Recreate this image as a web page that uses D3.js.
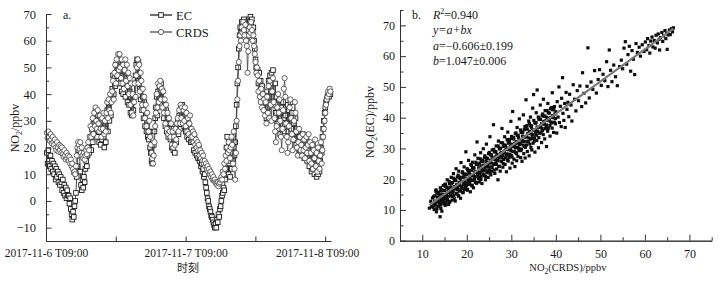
<!DOCTYPE html>
<html>
<head>
<meta charset="utf-8">
<script src="https://cdn.jsdelivr.net/npm/d3@7"></script>
<style>
  body { margin: 0; background: #fff; }
  text { font-family: "Liberation Serif", "Times New Roman", serif; fill: #1a1a1a; }
</style>
</head>
<body>
<svg id="fig" width="728" height="283"></svg>
<script>
// ---- panel a: NO2 time series, one reading every 7.5 min from 2017-11-06 09:09
const startTime = new Date(2017, 10, 6, 9, 0);
const firstHour = 0.15, stepHours = 0.125;
const ecSeries = [
  18,14,19,15,13,17,12,15,11,14,
  10,13,8,12,9,11,7,10,6,9,
  7,4,8,3,6,2,5,1,4,2,
  2,-1,1,-3,-5,-7,-4,-6,-2,0,
  3,9,13,19,21,17,11,6,4,8,
  5,9,7,12,15,13,17,20,18,22,
  24,19,27,22,29,25,31,34,28,24,
  32,26,22,29,21,27,23,30,24,20,
  27,22,30,34,26,35,30,37,32,38,
  42,47,40,46,43,51,45,49,52,44,
  50,44,48,41,47,40,49,43,39,46,
  43,37,45,36,41,33,39,32,37,34,
  39,44,47,51,53,46,52,45,42,38,
  42,34,39,31,37,28,33,26,30,24,
  23,26,20,18,15,14,17,21,26,31,
  35,39,32,41,35,43,38,44,36,41,
  38,31,36,28,34,26,31,24,29,25,
  23,27,20,25,19,23,18,25,22,28,
  30,25,32,27,35,29,36,31,34,28,
  32,26,30,24,29,23,28,25,22,26,
  22,25,19,24,18,22,17,21,16,20,
  15,16,13,14,11,12,9,10,7,5,
  3,1,0,-2,-3,-4,-5.5,-6,-7,-8,
  -9,-10,-8.5,-10,-7,-8,-5,-6,-3,-2,
  0,2,3,5,4,8,12,20,24,18,
  10,14,9,15,12,18,15,20,17,22,
  28,36,44,50,57,62,65,63,67,64,
  66,68,63,67,65,61,66,64,68,67,
  69,66,68,63,65,60,57,53,50,48,
  49,44,48,41,45,39,43,37,35,40,
  34,39,31,41,35,45,37,47,41,48,
  44,49,39,36,44,33,39,29,36,27,
  33,25,31,35,27,37,31,26,32,35,
  29,36,26,34,28,37,27,33,25,31,
  29,23,31,21,27,20,26,19,24,18,
  23,17,25,19,16,22,18,24,15,21,
  19,13,21,15,11,18,12,16,10,17,
  12,9,14,10,13,11,15,20,18,24,
  27,30,33,35,37,38,39,40,39,40,
  40
];
const crdsSeries = [
  25.5,23.5,26,24,22.5,25,23,21.5,24,22,
  21,23,20,19,22,20,18.5,21,19,20.5,
  18,20,17.5,16.5,19,17,15.5,18,16,17,
  15,16.5,14,15.5,13,14,12,10.5,11,10,
  13,17,20,22,21,19.5,22,18,20,17,
  16,18,15.5,17,19,17.5,20,22,19,24,
  28,24,27,31,25,33,28,35,30,27,
  34,29,26,32,27,24,31,27,33,25,
  30,26,33,37,31,38,34,40,33,37,
  41,45,38,48,51,44,53,47,55,49,
  55,50,46,53,44,51,42,49,53,45,
  51,43,48,40,46,36,44,33,40,32,
  37,44,39,47,50,53,44,51,41,48,
  45,36,42,34,39,31,36,28,33,26,
  26,30,24,21,18,16,14,17,22,28,
  33,40,35,44,37,43,45,38,42,35,
  41,33,38,29,36,27,33,25,31,26,
  24,29,21,26,20,24,21,27,23,29,
  31,26,34,29,36,31,35,29,34,30,
  35,28,33,26,31,25,29,32,24,27,
  24,26,22,25,21,23,20,22,19,21,
  17,19,16,18,15,17,14,15,13,14,
  12,13,11,12,10,11,9,10,8,9,
  7.5,8,7,6.5,6,7,5.5,6.5,7,8,
  9,8,11,10,14,12,17,15,20,18,
  22,19,16,20,24,21,14,26,12,8,
  18,30,38,45,52,58,62,60,65,63,
  67,64,62,66,60,58,48,56,62,65,
  63,67,64,60,62,58,55,52,48,50,
  47,41,45,39,37,42,35,40,34,38,
  32,37,29,39,33,43,31,45,36,30,
  41,46,37,31,26,22,28,35,40,33,
  38,30,24,19,27,34,42,46,39,29,
  24,18,22,28,35,38,31,25,19,23,
  30,37,33,26,20,17,22,27,24,19,
  21,17,25,19,23,16,20,24,18,21,
  25,15,22,18,14,21,12,19,16,23,
  13,18,11,20,15,12,17,22,14,19,
  24,27,30,33,36,38,39,41,40,42,
  41
];
const seriesNames = ["EC", "CRDS"];
const timeTickHours = [0, 12, 24, 36, 48];
const timeLabelHours = [0, 24, 48];

// ---- panel b: EC against CRDS, [CRDS, EC] in ppbv
const scatterPairs = [
  [11.6,10.6],[11.9,12.8],[12.1,11.2],[12.3,13.9],[12.4,10.9],[12.6,12.1],[12.8,14.6],[12.9,11.8],[13.1,16.5],[13.2,12.6],
  [13.3,10.4],[13.4,14.2],[13.6,13.1],[13.7,15.8],[13.8,12.2],[14.0,7.8],[14.0,14.9],[14.1,11.6],[14.2,16.2],[14.3,13.4],
  [14.4,9.6],[14.5,15.1],[14.6,12.7],[14.7,17.9],[14.8,14.3],[14.9,11.9],[15.0,16.3],[15.1,13.6],[15.2,18.4],[15.3,12.4],[15.4,15.2],
  [15.5,14.1],[15.6,19.8],[15.7,13.0],[15.8,16.9],[15.9,11.8],[16.0,15.7],[16.1,18.6],[16.2,12.7],[16.3,17.4],[16.4,14.8],[16.5,20.6],
  [16.6,15.9],[16.7,13.2],[16.8,18.9],[16.9,16.4],[17.0,21.8],[17.1,14.6],[17.2,17.6],[17.3,19.9],[17.4,12.9],[17.5,16.8],[17.6,23.4],
  [17.7,18.1],[17.8,15.2],[17.9,20.7],[18.0,17.3],[18.1,14.5],[18.2,22.6],[18.3,18.9],[18.4,16.1],[18.5,20.1],[18.6,13.8],[18.7,25.4],
  [18.8,19.3],[18.9,17.0],[19.0,22.1],[19.1,15.6],[19.2,20.6],[19.3,18.2],[19.4,24.0],[19.5,16.7],[19.6,21.3],[19.7,19.0],[19.8,28.9],[19.9,17.9],
  [20.0,21.6],[20.1,16.4],[20.2,23.2],[20.3,19.4],[20.4,26.1],[20.5,18.3],[20.6,22.0],[20.7,20.7],[20.8,15.9],[20.9,24.8],[21.0,19.6],[21.1,22.9],
  [21.2,18.0],[21.3,25.5],[21.4,21.1],[21.5,17.2],[21.6,23.6],[21.7,20.1],[21.8,27.9],[21.9,19.0],[22.0,22.4],[22.1,24.9],[22.2,18.7],[22.3,32.1],
  [22.4,21.5],[22.5,26.8],[22.6,20.2],[22.7,23.7],[22.8,19.1],[22.9,25.2],[23.0,22.3],[23.1,28.6],[23.2,20.9],[23.3,24.3],[23.4,18.6],[23.5,26.2],
  [23.6,22.8],[23.7,29.9],[23.8,24.6],[23.9,21.2],[24.0,27.1],[24.1,23.5],[24.2,19.8],[24.3,25.8],[24.4,31.4],[24.5,22.1],[24.6,26.7],[24.7,24.2],
  [24.8,20.6],[24.9,28.3],[25.0,25.1],[25.1,22.9],[25.2,33.8],[25.3,26.2],[25.4,21.4],[25.5,27.6],[25.6,24.0],[25.7,29.5],[25.8,22.6],[25.9,26.9],
  [26.0,37.7],[26.1,24.8],[26.2,28.9],[26.3,21.9],[26.4,27.2],[26.5,25.3],[26.6,30.8],[26.7,23.3],[26.8,28.0],[26.9,26.1],[27.0,19.8],[27.1,32.4],
  [27.2,27.0],[27.3,24.2],[27.4,29.8],[27.5,22.6],[27.6,28.4],[27.7,31.9],[27.8,25.7],[27.9,36.5],[28.0,27.8],[28.1,23.9],[28.2,30.6],[28.3,26.4],
  [28.4,29.1],[28.5,33.8],[28.6,24.8],[28.7,31.0],[28.8,27.3],[28.9,22.4],[29.0,30.1],[29.1,28.2],[29.2,35.3],[29.3,25.9],[29.4,31.7],[29.5,27.1],
  [29.6,32.9],[29.7,23.6],[29.8,29.6],[29.9,38.8],[30.0,27.7],[30.1,31.4],[30.2,25.2],[30.3,42.0],[30.4,29.0],[30.5,33.6],[30.6,26.5],[30.7,30.7],
  [30.8,24.1],[30.9,34.9],[31.0,28.6],[31.1,32.2],[31.2,26.0],[31.3,36.8],[31.4,30.4],[31.5,27.4],[31.6,33.5],[31.7,29.3],[31.8,39.6],
  [32.0,31.6],[32.1,27.0],[32.2,35.2],[32.3,29.8],[32.4,25.8],[32.5,34.0],[32.6,32.3],[32.7,40.9],[32.8,28.3],[32.9,36.1],[33.0,30.6],
  [33.1,26.9],[33.2,33.7],[33.3,45.8],[33.4,31.1],[33.5,37.4],[33.6,29.0],[33.7,34.8],[33.8,32.2],[33.9,38.9],[34.0,27.6],[34.1,35.6],
  [34.2,33.0],[34.3,40.2],[34.4,30.3],[34.5,36.9],[34.6,29.5],[34.7,34.3],[34.8,43.1],[34.9,31.7],[35.0,47.5],[35.1,36.0],[35.2,33.4],
  [35.3,28.8],[35.4,38.2],[35.5,35.1],[35.6,41.6],[35.7,32.6],[35.8,49.0],[35.9,36.7],[36.1,30.2],[36.2,39.5],[36.4,34.9],[36.5,44.1],
  [36.6,37.3],[36.8,31.9],[36.9,40.6],[37.0,35.8],[37.2,46.0],[37.3,38.8],[37.5,33.1],[37.6,42.3],[37.8,37.0],[37.9,30.6],[38.0,40.1],
  [38.2,44.6],[38.3,36.5],[38.5,39.6],[38.7,34.0],[38.8,42.9],[39.0,38.3],[39.2,48.1],[39.3,40.7],[39.5,35.2],[39.7,43.6],[39.9,38.0],[40.0,41.9],
  [40.2,35.0],[40.3,45.2],[40.5,40.2],[40.7,50.0],[40.8,38.4],[41.0,43.7],[41.2,37.1],[41.3,46.3],[41.5,53.0],[41.6,41.4],[41.8,39.1],[42.0,44.6],
  [42.1,36.8],[42.3,48.2],[42.5,42.7],[42.7,45.0],[42.9,40.3],[43.1,47.6],[43.4,44.1],[43.6,38.9],[43.9,50.7],[44.2,46.0],[44.5,42.2],[44.8,48.8],
  [45.1,45.5],[45.4,50.3],[45.8,43.6],[46.0,54.6],[46.3,47.9],[46.7,44.8],[47.0,50.2],[47.2,62.7],[47.5,46.4],[47.9,51.6],[48.3,49.2],[48.7,55.3],[49.1,48.0],[49.5,52.4],[49.8,55.6],
  [50.2,50.5],[50.6,54.1],[51.0,52.0],[51.4,58.2],[51.7,50.1],[52.0,62.0],[52.3,55.4],[52.6,51.7],[53.0,57.1],[53.4,53.3],[53.8,50.4],[54.3,56.6],[54.7,58.7],[55.0,55.9],
  [55.3,62.6],[55.6,64.7],[55.9,57.4],[56.2,60.5],[56.5,63.2],[56.8,55.1],[57.1,61.8],[57.4,59.0],[57.7,54.0],[58.0,64.1],[58.3,61.2],[58.7,62.9],[59.0,60.0],[59.4,63.7],[59.8,61.5],
  [60.1,64.6],[60.4,62.1],[60.6,65.7],[60.9,63.4],[61.1,61.0],[61.3,64.9],[61.6,66.2],[61.8,63.0],[62.1,65.1],[62.3,62.6],[62.5,66.8],[62.8,64.3],[63.0,67.2],[63.2,65.5],[63.3,62.0],
  [63.5,66.0],[63.8,67.7],[64.0,64.8],[64.2,66.6],[64.5,68.3],[64.7,65.7],[64.9,67.4],[65.0,62.2],[65.2,66.9],[65.5,68.5],[65.7,67.0],[66.0,68.9],[66.2,67.9],[66.4,69.2],
  // the dense core of the cloud
  [12.55,14.3],[12.67,10.2],[12.79,12.9],[12.91,11.4],[13.05,16.1],[13.17,9.4],[13.29,15.4],[13.41,12.8],
  [13.55,15.3],[13.67,11.2],[13.79,13.9],[13.91,12.4],[14.05,17.2],[14.17,10.5],[14.29,16.5],[14.41,13.9],
  [14.55,16.4],[14.67,12.3],[14.79,15.0],[14.91,13.5],[15.05,18.2],[15.17,11.5],[15.29,17.5],[15.41,14.9],
  [15.55,17.4],[15.67,13.3],[15.79,16.0],[15.91,14.5],[16.05,19.3],[16.17,12.6],[16.29,18.6],[16.41,16.0],
  [16.55,18.5],[16.67,14.4],[16.79,17.1],[16.91,15.6],[17.05,20.3],[17.17,13.6],[17.29,19.6],[17.41,17.0],
  [17.55,19.5],[17.67,15.4],[17.79,18.1],[17.91,16.6],[18.05,21.3],[18.17,14.6],[18.29,20.6],[18.41,18.0],
  [18.55,20.6],[18.67,16.5],[18.79,19.2],[18.91,17.7],[19.05,22.4],[19.17,15.7],[19.29,21.7],[19.41,19.1],
  [19.55,21.6],[19.67,17.5],[19.79,20.2],[19.91,18.7],[20.05,23.4],[20.17,16.7],[20.29,22.7],[20.41,20.1],
  [20.55,22.7],[20.67,18.6],[20.79,21.3],[20.91,19.8],[21.05,24.5],[21.17,17.8],[21.29,23.8],[21.41,21.2],
  [21.55,23.7],[21.67,19.6],[21.79,22.3],[21.91,20.8],[22.05,25.5],[22.17,18.8],[22.29,24.8],[22.41,22.2],
  [22.55,24.8],[22.67,20.7],[22.79,23.4],[22.91,21.9],[23.05,26.6],[23.17,19.9],[23.29,25.9],[23.41,23.3],
  [23.55,25.8],[23.67,21.7],[23.79,24.4],[23.91,22.9],[24.05,27.6],[24.17,20.9],[24.29,26.9],[24.41,24.3],
  [24.55,26.8],[24.67,22.7],[24.79,25.4],[24.91,23.9],[25.05,28.7],[25.17,22.0],[25.29,28.0],[25.41,25.4],
  [25.55,27.9],[25.67,23.8],[25.79,26.5],[25.91,25.0],[26.05,29.7],[26.17,23.0],[26.29,29.0],[26.41,26.4],
  [26.55,28.9],[26.67,24.8],[26.79,27.5],[26.91,26.0],[27.05,30.8],[27.17,24.1],[27.29,30.1],[27.41,27.5],
  [27.55,30.0],[27.67,25.9],[27.79,28.6],[27.91,27.1],[28.05,31.8],[28.17,25.1],[28.29,31.1],[28.41,28.5],
  [28.55,31.0],[28.67,26.9],[28.79,29.6],[28.91,28.1],[29.05,32.9],[29.17,26.2],[29.29,32.2],[29.41,29.6],
  [29.55,32.1],[29.67,28.0],[29.79,30.7],[29.91,29.2],[30.05,33.9],[30.17,27.2],[30.29,33.2],[30.41,30.6],
  [30.55,33.1],[30.67,29.0],[30.79,31.7],[30.91,30.2],[31.05,35.0],[31.17,28.3],[31.29,34.3],[31.41,31.7],
  [31.55,34.2],[31.67,30.1],[31.79,32.8],[31.91,31.3],[32.05,36.0],[32.17,29.3],[32.29,35.3],[32.41,32.7],
  [32.55,35.2],[32.67,31.1],[32.79,33.8],[32.91,32.3],[33.05,37.1],[33.17,30.4],[33.29,36.4],[33.41,33.8],
  [33.55,36.3],[33.67,32.2],[33.79,34.9],[33.91,33.4],[34.05,38.1],[34.17,31.4],[34.29,37.4],[34.41,34.8],
  [34.55,37.3],[34.67,33.2],[34.79,35.9],[34.91,34.4],[35.05,39.1],[35.17,32.4],[35.29,38.4],[35.41,35.8],
  [35.55,38.4],[35.67,34.3],[35.79,37.0],[35.91,35.5],[36.05,40.2],[36.17,33.5],[36.29,39.5],[36.41,36.9],
  [36.55,39.4],[36.67,35.3],[36.79,38.0],[36.91,36.5],[37.05,41.2],[37.17,34.5],[37.29,40.5],[37.41,37.9],
  [37.55,40.5],[37.67,36.4],[37.79,39.1],[37.91,37.6],[38.05,42.3],[38.17,35.6],[38.29,41.6],[38.41,39.0],
  [38.55,41.5],[38.67,37.4],[38.79,40.1],[38.91,38.6],[39.05,43.3],[39.17,36.6],[39.29,42.6],[39.41,40.0],
  [39.55,42.6],[39.67,38.5],[39.79,41.2],[39.91,39.7]
];
const fitIntercept = -0.606, fitSlope = 1.047;
const fitRange = [11.6, 66.4];

const svg = d3.select("#fig");
const hour = 3600e3;
const atHour = h => new Date(startTime.getTime() + h * hour);

// ================= panel a =================
const xa = d3.scaleTime().domain([startTime, atHour(49)]).range([46, 331]);
const ya = d3.scaleLinear().domain([-15, 70]).range([241, 14]);

const ecPts = ecSeries.map((v, i) => ({ t: atHour(firstHour + i * stepHours), v }));
const crdsPts = crdsSeries.map((v, i) => ({ t: atHour(firstHour + i * stepHours), v }));

const pa = svg.append("g");
const line = d3.line().x(d => xa(d.t)).y(d => ya(d.v));

pa.append("path").datum(ecPts).attr("d", line)
  .attr("fill", "none").attr("stroke", "#111").attr("stroke-width", 0.8);
pa.append("g").selectAll("rect").data(ecPts).join("rect")
  .attr("x", d => xa(d.t) - 2.3).attr("y", d => ya(d.v) - 2.3)
  .attr("width", 4.6).attr("height", 4.6)
  .attr("fill", "#fff").attr("stroke", "#1a1a1a").attr("stroke-width", 0.9);

pa.append("path").datum(crdsPts).attr("d", line)
  .attr("fill", "none").attr("stroke", "#444").attr("stroke-width", 0.8);
pa.append("g").selectAll("circle").data(crdsPts).join("circle")
  .attr("cx", d => xa(d.t)).attr("cy", d => ya(d.v)).attr("r", 2.6)
  .attr("fill", "#fff").attr("stroke", "#484848").attr("stroke-width", 0.85);

// axes a
const fmtDate = d3.timeFormat("%Y-%-m-%-d T%H:%M");
pa.append("g").attr("transform", "translate(0,241)")
  .call(d3.axisBottom(xa).tickValues(timeTickHours.map(atHour)).tickSize(-4.5).tickSizeOuter(0)
    .tickFormat(d => timeLabelHours.includes((d - startTime) / hour) ? fmtDate(d) : "").tickPadding(8))
  .call(g => g.selectAll("text").style("font-size", "11.5px"))
  .call(g => g.selectAll(".tick").filter((d, i, n) => i === n.length - 1).select("text").attr("dx", -8));

pa.append("g").attr("transform", "translate(46,0)")
  .call(d3.axisLeft(ya).tickValues(d3.range(-15, 70, 10)).tickSize(-3).tickFormat("").tickSizeOuter(0));
pa.append("g").attr("transform", "translate(46,0)")
  .call(d3.axisLeft(ya).tickValues(d3.range(-10, 71, 10)).tickSize(-5.5).tickPadding(10).tickSizeOuter(0))
  .call(g => g.selectAll("text").style("font-size", "12.5px"));

pa.append("text").attr("x", 188).attr("y", 272).attr("text-anchor", "middle")
  .style("font-family", "'Noto Sans CJK SC', sans-serif").style("font-size", "11px").text("时刻");
const ta = pa.append("text").attr("transform", "translate(19,128) rotate(-90)")
  .attr("text-anchor", "middle").style("font-size", "12px");
ta.append("tspan").text("NO");
ta.append("tspan").attr("dy", 3).style("font-size", "8px").text("2");
ta.append("tspan").attr("dy", -3).text("/ppbv");

pa.append("text").attr("x", 63).attr("y", 19).style("font-size", "12px").text("a.");

// legend a
const lg = pa.append("g");
seriesNames.forEach((name, k) => {
  const yy = 15 + k * 17;
  lg.append("line").attr("x1", 150).attr("x2", 172).attr("y1", yy).attr("y2", yy)
    .attr("stroke", k ? "#444" : "#111").attr("stroke-width", 1.2);
  if (k === 0) {
    lg.append("rect").attr("x", 158.7).attr("y", yy - 2.3).attr("width", 4.6).attr("height", 4.6)
      .attr("fill", "#fff").attr("stroke", "#1a1a1a").attr("stroke-width", 0.9);
  } else {
    lg.append("circle").attr("cx", 161).attr("cy", yy).attr("r", 2.6)
      .attr("fill", "#fff").attr("stroke", "#484848").attr("stroke-width", 0.85);
  }
  lg.append("text").attr("x", 176).attr("y", yy + 4.5).style("font-size", "12.5px").text(name);
});

// ================= panel b =================
const xb = d3.scaleLinear().domain([5, 75]).range([400, 711.7]);
const yb = d3.scaleLinear().domain([0, 75]).range([240.7, 10]);
const pb = svg.append("g");

pb.append("g").selectAll("rect").data(scatterPairs).join("rect")
  .attr("x", d => xb(d[0]) - 1.6).attr("y", d => yb(d[1]) - 1.6)
  .attr("width", 3.2).attr("height", 3.2).attr("fill", "#0d0d0d");

pb.append("line")
  .attr("x1", xb(fitRange[0])).attr("y1", yb(fitIntercept + fitSlope * fitRange[0]))
  .attr("x2", xb(fitRange[1])).attr("y2", yb(fitIntercept + fitSlope * fitRange[1]))
  .attr("stroke", "#7a7a7a").attr("stroke-width", 2.2);

pb.append("g").attr("transform", "translate(0,240.7)")
  .call(d3.axisBottom(xb).tickValues(d3.range(5, 76, 10)).tickSize(-3.5).tickFormat("").tickSizeOuter(0));
pb.append("g").attr("transform", "translate(0,240.7)")
  .call(d3.axisBottom(xb).tickValues(d3.range(10, 71, 10)).tickSize(-6).tickPadding(9).tickSizeOuter(0))
  .call(g => g.selectAll("text").style("font-size", "12px"));
pb.append("g").attr("transform", "translate(400,0)")
  .call(d3.axisLeft(yb).tickValues(d3.range(5, 76, 10)).tickSize(-3.5).tickFormat("").tickSizeOuter(0));
pb.append("g").attr("transform", "translate(400,0)")
  .call(d3.axisLeft(yb).tickValues(d3.range(0, 71, 10)).tickSize(-6).tickPadding(5).tickSizeOuter(0))
  .call(g => g.selectAll("text").style("font-size", "12px"));

svg.selectAll(".domain").attr("stroke", "#333");
svg.selectAll(".tick line").attr("stroke", "#333");

const tbx = pb.append("text").attr("x", 568).attr("y", 271).attr("text-anchor", "middle").style("font-size", "10.5px");
tbx.append("tspan").text("NO");
tbx.append("tspan").attr("dy", 3).style("font-size", "7.5px").text("2");
tbx.append("tspan").attr("dy", -3).text("(CRDS)/ppbv");

const tby = pb.append("text").attr("transform", "translate(374,122) rotate(-90)")
  .attr("text-anchor", "middle").style("font-size", "12px");
tby.append("tspan").text("NO");
tby.append("tspan").attr("dy", 3).style("font-size", "8px").text("2");
tby.append("tspan").attr("dy", -3).text("(EC)/ppbv");

pb.append("text").attr("x", 412).attr("y", 19).style("font-size", "12px").text("b.");

const ann = pb.append("g").style("font-size", "12px");
const r2 = ann.append("text").attr("x", 433).attr("y", 19);
r2.append("tspan").style("font-style", "italic").text("R");
r2.append("tspan").attr("dy", -5).style("font-size", "8px").text("2");
r2.append("tspan").attr("dy", 5).text("=0.940");

ann.append("text").attr("x", 433).attr("y", 34).style("font-style", "italic").text("y=a+bx");

const ta2 = ann.append("text").attr("x", 433).attr("y", 50);
ta2.append("tspan").style("font-style", "italic").text("a");
ta2.append("tspan").text("=\u2212" + Math.abs(fitIntercept).toFixed(3) + "\u00b10.199");

const tb2 = ann.append("text").attr("x", 433).attr("y", 65);
tb2.append("tspan").style("font-style", "italic").text("b");
tb2.append("tspan").text("=" + fitSlope.toFixed(3) + "\u00b10.006");
</script>
</body>
</html>
